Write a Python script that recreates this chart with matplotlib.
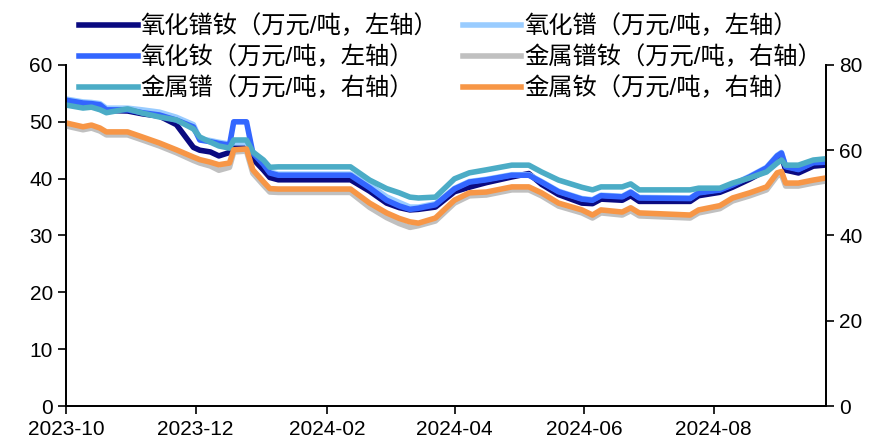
import matplotlib
matplotlib.use("Agg")
import matplotlib.pyplot as plt
import matplotlib.dates as mdates
import pandas as pd

plt.rcParams["font.family"] = ["Liberation Sans", "Noto Sans CJK SC"]

# dates of the read-off points (shared by all series)
dates = [
    "2023-10-01", "2023-10-09", "2023-10-13", "2023-10-17", "2023-10-20",
    "2023-10-30", "2023-11-06", "2023-11-14", "2023-11-22", "2023-11-30",
    "2023-12-03", "2023-12-08", "2023-12-12", "2023-12-17", "2023-12-19",
    "2023-12-25", "2023-12-28", "2024-01-02", "2024-01-05", "2024-01-09",
    "2024-02-12", "2024-02-21", "2024-02-29", "2024-03-06", "2024-03-11",
    "2024-03-15", "2024-03-23", "2024-04-01", "2024-04-08", "2024-04-16",
    "2024-04-28", "2024-05-06", "2024-05-12", "2024-05-20", "2024-05-31",
    "2024-06-05", "2024-06-09", "2024-06-19", "2024-06-23", "2024-06-27",
    "2024-07-21", "2024-07-25", "2024-08-04", "2024-08-10", "2024-08-18",
    "2024-08-26", "2024-08-31", "2024-09-02", "2024-09-04", "2024-09-10",
    "2024-09-17", "2024-09-23",
]

# left axis (万元/吨)
prnd_oxide = [
    53.6, 53.1, 53.0, 52.8, 52.0, 51.9, 51.4, 51.0, 49.5, 45.5,
    45.0, 44.7, 44.0, 44.6, 46.0, 46.0, 43.5, 41.5, 40.2, 39.8,
    39.8, 37.8, 35.7, 34.9, 34.5, 34.6, 35.0, 37.7, 38.5, 39.3,
    40.3, 40.9, 39.0, 37.2, 35.7, 35.6, 36.4, 36.2, 37.0, 36.0,
    36.0, 37.0, 37.6, 38.5, 39.9, 41.5, 43.5, 44.0, 41.5, 41.0,
    42.2, 42.4,
]
pr_oxide = [
    54.0, 53.5, 53.4, 53.2, 52.4, 52.4, 52.1, 51.7, 50.8, 49.5,
    47.0, 46.7, 46.4, 46.1, 46.3, 46.3, 44.7, 42.7, 41.2, 40.8,
    40.8, 38.9, 36.8, 35.8, 35.0, 35.0, 35.6, 38.3, 39.5, 39.9,
    40.7, 40.7, 39.5, 37.8, 36.5, 36.3, 37.1, 36.9, 37.7, 36.7,
    36.6, 37.6, 38.1, 39.0, 40.4, 42.0, 44.1, 44.6, 42.2, 41.7,
    42.9, 43.0,
]
nd_oxide = [
    53.8, 53.3, 53.2, 53.0, 52.1, 52.1, 51.6, 51.2, 50.3, 49.1,
    46.8, 46.5, 46.2, 45.9, 50.0, 50.0, 44.5, 42.5, 41.0, 40.6,
    40.6, 38.4, 36.2, 35.2, 34.6, 34.8, 35.4, 38.2, 39.4, 39.8,
    40.6, 40.6, 39.4, 37.7, 36.4, 36.2, 37.0, 36.8, 37.6, 36.6,
    36.5, 37.5, 38.0, 38.9, 40.3, 41.9, 44.0, 44.5, 42.1, 41.6,
    42.8, 42.9,
]

# right axis (万元/吨)
prnd_metal = [
    65.7, 64.8, 65.2, 64.5, 63.6, 63.6, 62.4, 61.0, 59.4, 57.6,
    57.0, 56.3, 55.3, 56.0, 59.6, 59.8, 54.6, 51.8, 50.2, 50.1,
    50.1, 46.6, 44.2, 42.8, 41.9, 42.3, 43.4, 47.6, 49.3, 49.5,
    50.7, 50.7, 49.3, 46.9, 45.3, 44.1, 45.3, 44.8, 45.8, 44.6,
    44.1, 45.3, 46.3, 48.1, 49.3, 50.7, 54.0, 54.3, 51.6, 51.6,
    52.3, 52.8,
]
pr_metal = [
    70.6, 69.9, 70.1, 69.5, 68.8, 69.7, 68.7, 67.8, 67.1, 65.0,
    63.1, 61.9, 61.0, 60.5, 62.4, 62.4, 59.6, 57.7, 56.0, 56.1,
    56.1, 53.0, 51.0, 50.0, 49.0, 48.8, 49.0, 53.3, 54.7, 55.4,
    56.5, 56.5, 54.9, 53.0, 51.3, 50.7, 51.4, 51.4, 52.1, 50.7,
    50.7, 51.1, 51.1, 52.3, 53.5, 54.9, 57.0, 57.7, 56.5, 56.5,
    57.7, 58.0,
]
nd_metal = [
    66.4, 65.5, 65.9, 65.2, 64.3, 64.3, 63.1, 61.7, 60.1, 58.4,
    57.8, 57.2, 56.6, 57.0, 60.1, 60.3, 55.4, 52.6, 51.0, 50.9,
    50.9, 47.6, 45.3, 44.0, 43.2, 42.9, 44.1, 48.3, 50.0, 50.2,
    51.4, 51.4, 50.0, 47.6, 46.0, 44.8, 46.0, 45.5, 46.5, 45.3,
    44.8, 46.0, 47.0, 48.8, 50.0, 51.4, 54.7, 55.0, 52.3, 52.3,
    53.0, 53.5,
]

labels = [
    "氧化镨钕（万元/吨，左轴）", "氧化镨（万元/吨，左轴）", "氧化钕（万元/吨，左轴）",
    "金属镨钕（万元/吨，右轴）", "金属镨（万元/吨，右轴）", "金属钕（万元/吨，右轴）",
]
colors = ["#0a0a80", "#99ccff", "#3366ff", "#c0c0c0", "#4bacc6", "#f79646"]

x = pd.to_datetime(dates)
LW = 4.0

fig = plt.figure(figsize=(8.78, 4.45), dpi=100)
ax = fig.add_axes([0.0752, 0.0876, 0.8656, 0.7664])
ax2 = ax.twinx()

h = []
for vals, lab, c in zip([prnd_oxide, pr_oxide, nd_oxide], labels[:3], colors[:3]):
    h += ax.plot(x, vals, color=c, lw=LW, label=lab, solid_joinstyle="round")
for vals, lab, c in zip([prnd_metal, pr_metal, nd_metal], labels[3:], colors[3:]):
    h += ax2.plot(x, vals, color=c, lw=LW, label=lab, solid_joinstyle="round")

ax.set_xlim(x[0], x[-1])
ax.set_ylim(0, 60)
ax2.set_ylim(0, 80)
ax.set_yticks(range(0, 61, 10))
ax2.set_yticks(range(0, 81, 20))

ax.xaxis.set_major_locator(mdates.MonthLocator(bymonth=[2, 4, 6, 8, 10, 12]))
ax.xaxis.set_major_formatter(mdates.DateFormatter("%Y-%m"))

for a in (ax, ax2):
    a.spines["top"].set_visible(False)
    for s in a.spines.values():
        s.set_linewidth(1.3)
    a.tick_params(direction="out", length=6, width=1.2, labelsize=15)
ax.tick_params(axis="x", pad=4)

# legend order: column 1 = 氧化镨钕, 氧化钕, 金属镨 ; column 2 = 氧化镨, 金属镨钕, 金属钕
order = [0, 2, 4, 1, 3, 5]
fig.legend([h[i] for i in order], [labels[i] for i in order], ncol=2,
           loc="upper left", bbox_to_anchor=(0.071, 1.005), frameon=False,
           fontsize=17.5, handlelength=2.4, handletextpad=0.12,
           columnspacing=1.0, labelspacing=0.3, borderpad=0.2)

fig.savefig("out.png", dpi=100)
